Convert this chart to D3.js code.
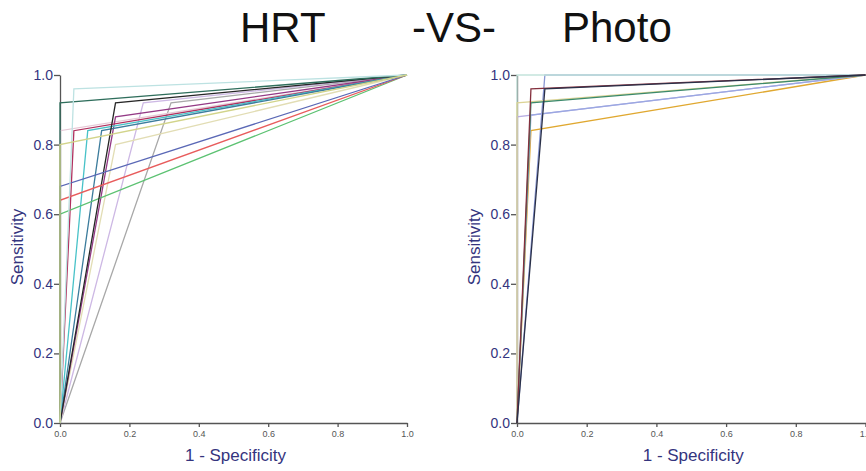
<!DOCTYPE html>
<html>
<head>
<meta charset="utf-8">
<script src="https://d3js.org/d3.v7.min.js"></script>
<style>
  body { margin: 0; background: #fff; }
  svg { display: block; font-family: "Liberation Sans", Arial, sans-serif; }
</style>
</head>
<body>
<div id="chart"></div>
<script>

// HRT panel: each curve goes (0,0) -> (fpr, sens) -> (1,1)
var hrtFpr  = [0.32, 0.24, 0.16, 0.00, 0.16, 0.04, 0.08, 0.12, 0.00, 0.16, 0.00, 0.00, 0.00, 0.04, 0.00];
var hrtSens = [0.92, 0.92, 0.80, 0.84, 0.88, 0.84, 0.84, 0.84, 0.60, 0.92, 0.64, 0.68, 0.92, 0.96, 0.80];
var hrtColors = ["#a8a8a8", "#cdb8e4", "#e2ddb4", "#e6c8d6", "#943a86", "#b0305e", "#48c2c8", "#3c7c9c",
                 "#5cc272", "#262626", "#e85c5c", "#5a68b6", "#2f6e5c", "#bde2e2", "#d2d48a"];

// Photo panel
var photoFpr  = [0.08, 0.00, 0.04, 0.00, 0.04, 0.00, 0.04, 0.04, 0.08];
var photoSens = [1.00, 1.00, 0.84, 0.88, 0.885, 0.92, 0.92, 0.96, 0.96];
var photoColors = ["#8a98d4", "#c4e4dc", "#e0a830", "#b8aee4", "#9aa8e2", "#dcd496", "#3c8a6c", "#84303e", "#2a3048"];

var ticks = [0, 0.2, 0.4, 0.6, 0.8, 1.0];

var width = 866, height = 471;

var svg = d3.select("#chart")
  .append("svg")
    .attr("width", width)
    .attr("height", height);

// title
var title = svg.append("g")
  .style("font-size", "42px")
  .style("fill", "#111");
title.append("text").attr("x", 240).attr("y", 42).text("HRT");
title.append("text").attr("x", 412).attr("y", 42).text("-VS-");
title.append("text").attr("x", 562).attr("y", 42).text("Photo");

function drawPanel(left, right, fpr, sens, colors) {
  var x = d3.scaleLinear().domain([0, 1]).range([left, right]);
  var y = d3.scaleLinear().domain([0, 1]).range([423, 75]);

  // axes
  var xAxis = svg.append("g")
    .attr("transform", "translate(0,423)")
    .call(d3.axisBottom(x)
      .tickValues(ticks)
      .tickSize(4)
      .tickSizeOuter(0)
      .tickPadding(4)
      .tickFormat(d3.format(".1f")));
  xAxis.selectAll("text")
    .style("font-size", "9px")
    .style("fill", "#555")
    .style("font-family", "Liberation Sans, Arial, sans-serif");
  xAxis.selectAll("line, path").style("stroke", "#555").style("stroke-width", 1.3);

  var yAxis = svg.append("g")
    .attr("transform", "translate(" + left + ",0)")
    .call(d3.axisLeft(y)
      .tickValues(ticks)
      .tickSize(6)
      .tickSizeOuter(0)
      .tickPadding(1)
      .tickFormat(d3.format(".1f")));
  yAxis.selectAll("text")
    .style("font-size", "14px")
    .style("fill", "#34347e")
    .style("font-family", "Liberation Sans, Arial, sans-serif");
  yAxis.selectAll("line, path").style("stroke", "#555").style("stroke-width", 1.3);

  // curves
  var line = d3.line()
    .x(function(d) { return x(d[0]); })
    .y(function(d) { return y(d[1]); });

  svg.append("g")
    .selectAll("path")
    .data(fpr.map(function(f, i) { return { pts: [[0, 0], [f, sens[i]], [1, 1]], c: colors[i] }; }))
    .enter()
    .append("path")
      .attr("d", function(d) { return line(d.pts); })
      .style("fill", "none")
      .style("stroke", function(d) { return d.c; })
      .style("stroke-width", 1.3);

  // axis labels
  svg.append("text")
    .attr("transform", "rotate(-90)")
    .attr("x", -247)
    .attr("y", left - 37)
    .attr("text-anchor", "middle")
    .style("font-size", "17px")
    .style("fill", "#34347e")
    .text("Sensitivity");

  svg.append("text")
    .attr("x", (left + right) / 2 + 2)
    .attr("y", 461)
    .attr("text-anchor", "middle")
    .style("font-size", "17px")
    .style("fill", "#34347e")
    .text("1 - Specificity");
}

drawPanel(60, 407, hrtFpr, hrtSens, hrtColors);
drawPanel(517, 865.5, photoFpr, photoSens, photoColors);

</script>
</body>
</html>
